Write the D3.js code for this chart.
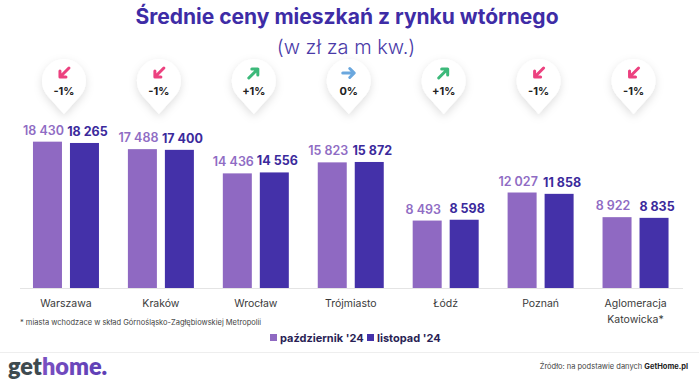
<!DOCTYPE html>
<html>
<head>
<meta charset="utf-8">
<script src="https://cdn.jsdelivr.net/npm/d3@7"></script>
<style>
  html, body { margin: 0; padding: 0; background: #fff; }
  svg { display: block; font-family: "Inter", "Lato", sans-serif; }
</style>
</head>
<body>
<svg id="chart" width="699" height="379"></svg>
<script>
const categories = ["Warszawa", "Kraków", "Wrocław", "Trójmiasto", "Łódź", "Poznań", "Aglomeracja Katowicka*"];
const octValues = [18430, 17488, 14436, 15823, 8493, 12027, 8922];
const novValues = [18265, 17400, 14556, 15872, 8598, 11858, 8835];
const changeLabels = ["-1%", "-1%", "+1%", "0%", "+1%", "-1%", "-1%"];
const seriesNames = ["październik '24", "listopad '24"];

const colors = { oct: "#8f69c2", nov: "#4431a9" };
const svg = d3.select("#chart");
const W = 699, H = 379;
const baseY = 288;

const x0 = d3.scaleBand().domain(categories).range([18.5, 683]).padding(0);
const x1 = d3.scaleBand().domain([0, 1]).range([-33, 33]).paddingInner(0.2162).paddingOuter(0);
const y = d3.scaleLinear().domain([0, 20000]).range([baseY, 129.2]);
const fmt = v => d3.format(",")(v).replace(/,/g, " ");

// defs
const defs = svg.append("defs");
const f = defs.append("filter").attr("id", "shadow").attr("x", "-50%").attr("y", "-50%").attr("width", "200%").attr("height", "200%");
f.append("feDropShadow").attr("dx", 0).attr("dy", 3).attr("stdDeviation", 4).attr("flood-color", "#000").attr("flood-opacity", 0.13);
const lg = defs.append("linearGradient").attr("id", "logoGrad").attr("x1", "0").attr("x2", "1");
lg.append("stop").attr("offset", "0").attr("stop-color", "#8a5bc9");
lg.append("stop").attr("offset", "1").attr("stop-color", "#5b3cb4");

// title
svg.append("text").attr("x", 347).attr("y", 24).attr("text-anchor", "middle")
  .attr("font-size", 21).attr("font-weight", 700).attr("fill", "#3e2ca6")
  .text("Średnie ceny mieszkań z rynku wtórnego");
svg.append("text").attr("x", 346).attr("y", 54).attr("text-anchor", "middle")
  .attr("font-size", 20).attr("font-weight", 300).attr("fill", "#4a3aa8")
  .text("(w zł za m kw.)");

// badges
const badge = svg.append("g").selectAll("g").data(categories).join("g")
  .attr("transform", (d) => `translate(${x0(d) + x0.bandwidth() / 2 - 2},0)`);
const r = 22, cy = 81, tipY = 114;
const dd = tipY - cy, cosP = r / dd, sinP = Math.sqrt(1 - cosP * cosP);
const tx = r * sinP, ty = cy + r * cosP;
badge.append("path")
  .attr("d", `M0,${tipY} L${-tx},${ty} A${r},${r} 0 1 1 ${tx},${ty} Z`)
  .attr("fill", "#fff").attr("filter", "url(#shadow)");
badge.each(function (d, i) {
  const g = d3.select(this);
  const lab = changeLabels[i];
  const ay = 73;
  let col, dpath;
  if (lab.startsWith("-")) {
    col = "#ec417f";
    dpath = `M5,${ay - 5} L-4,${ay + 4} M-4,${ay - 2} L-4,${ay + 4} L2,${ay + 4}`;
  } else if (lab.startsWith("+")) {
    col = "#3cb97a";
    dpath = `M-5,${ay + 5} L4,${ay - 4} M-2,${ay - 4} L4,${ay - 4} L4,${ay + 2}`;
  } else {
    col = "#6aa7de";
    dpath = `M-6,${ay} L5,${ay} M1,${ay - 4.5} L5.5,${ay} L1,${ay + 4.5}`;
  }
  g.append("path").attr("d", dpath).attr("fill", "none").attr("stroke", col)
    .attr("stroke-width", 3).attr("stroke-linecap", "round").attr("stroke-linejoin", "round");
  g.append("text").attr("x", 0).attr("y", 95).attr("text-anchor", "middle")
    .attr("font-size", 11).attr("font-weight", 700).attr("fill", "#222").text(lab);
});

// axis line
svg.append("line").attr("x1", 20).attr("x2", 683).attr("y1", baseY + 0.5).attr("y2", baseY + 0.5)
  .attr("stroke", "#e4e4e4").attr("stroke-width", 1);

// bars
const groups = svg.append("g").selectAll("g").data(categories).join("g")
  .attr("transform", d => `translate(${x0(d) + x0.bandwidth() / 2},0)`);
groups.append("rect").attr("x", x1(0)).attr("width", x1.bandwidth())
  .attr("y", (d, i) => y(octValues[i])).attr("height", (d, i) => baseY - y(octValues[i]))
  .attr("fill", colors.oct);
groups.append("rect").attr("x", x1(1)).attr("width", x1.bandwidth())
  .attr("y", (d, i) => y(novValues[i])).attr("height", (d, i) => baseY - y(novValues[i]))
  .attr("fill", colors.nov);
groups.append("text").attr("x", x1(0) + x1.bandwidth() / 2 - 4).attr("y", (d, i) => y(octValues[i]) - 7)
  .attr("text-anchor", "middle").attr("font-size", 12.5).attr("font-weight", 600).attr("fill", "#8f6cc4")
  .text((d, i) => fmt(octValues[i]));
groups.append("text").attr("x", x1(1) + x1.bandwidth() / 2 + 3).attr("y", (d, i) => y(novValues[i]) - 7)
  .attr("text-anchor", "middle").attr("font-size", 12.5).attr("font-weight", 700).attr("fill", "#3b2a9c")
  .text((d, i) => fmt(novValues[i]));

// category labels
groups.each(function (d) {
  const words = d === "Aglomeracja Katowicka*" ? ["Aglomeracja", "Katowicka*"] : [d];
  const t = d3.select(this).append("text").attr("text-anchor", "middle")
    .attr("font-size", 10.5).attr("fill", "#3a3a3a");
  words.forEach((w, k) => t.append("tspan").attr("x", 0).attr("y", 307 + k * 15.5).text(w));
});

// footnote
svg.append("text").attr("x", 20).attr("y", 325).attr("font-size", 7.5).attr("fill", "#444")
  .text("* miasta wchodzace w skład Górnośląsko-Zagłębiowskiej Metropolii");

// legend
const legendX = [270, 367];
seriesNames.forEach((n, i) => {
  svg.append("rect").attr("x", legendX[i]).attr("y", 334).attr("width", 7).attr("height", 7)
    .attr("fill", i === 0 ? colors.oct : colors.nov);
  svg.append("text").attr("x", legendX[i] + 10).attr("y", 341.5).attr("font-size", 11)
    .attr("font-weight", 700).attr("fill", "#2a1f55").text(n);
});

// separator
svg.append("line").attr("x1", 0).attr("x2", W).attr("y1", 352.5).attr("y2", 352.5)
  .attr("stroke", "#eeeeee");

// logo
const logo = svg.append("text").attr("x", 8).attr("y", 375).attr("font-size", 23.5)
  .attr("font-weight", 800).attr("font-family", "Lato, sans-serif");
logo.append("tspan").attr("fill", "#3e4a4f").text("get");
logo.append("tspan").attr("fill", "url(#logoGrad)").text("home.");

// source
const src = svg.append("text").attr("x", 688).attr("y", 369).attr("text-anchor", "end")
  .attr("font-size", 7.5).attr("fill", "#444");
src.append("tspan").text("Źródło: na podstawie danych ");
src.append("tspan").attr("font-weight", 700).attr("fill", "#222").text("GetHome.pl");
</script>
</body>
</html>
